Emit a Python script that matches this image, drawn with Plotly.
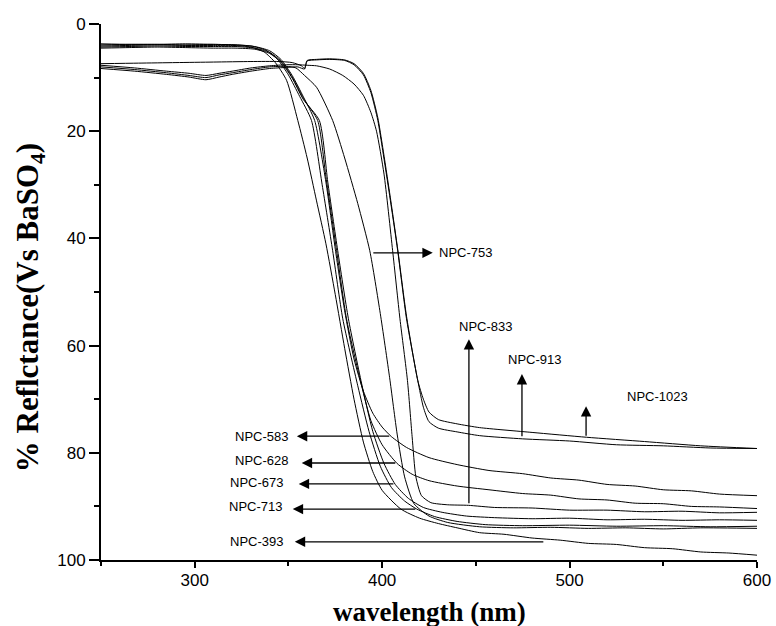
import plotly.graph_objects as go

# ---------------- data ----------------
wl_393 = [250, 265, 280, 295, 310, 320, 330, 337, 343, 349, 355, 360, 365, 370, 375, 380, 385, 390, 395, 400, 410, 420, 430, 440, 452, 465, 480, 495, 510, 525, 540, 555, 570, 585, 600]
r_393 = [4.1, 4.0, 3.9, 4.0, 4.0, 4.0, 4.3, 5.2, 7.2, 10.5, 18.0, 25.0, 33.0, 41.0, 50.5, 60.5, 70.0, 78.0, 83.5, 87.0, 90.5, 92.2, 93.2, 94.0, 94.9, 95.2, 95.9, 96.3, 96.9, 97.1, 97.7, 97.9, 98.5, 98.7, 99.1]

wl_583 = [250, 265, 280, 295, 310, 322, 332, 340, 346, 352, 358, 364, 370, 375, 380, 385, 390, 395, 400, 405, 413, 425, 440, 457, 475, 490, 505, 520, 535, 550, 565, 580, 600]
r_583 = [3.7, 3.8, 3.8, 3.7, 3.8, 3.9, 4.2, 5.0, 6.6, 9.6, 13.6, 18.0, 29.5, 42.0, 53.5, 62.5, 68.5, 72.6, 75.2, 77.0, 79.0, 80.9, 82.2, 83.3, 83.9, 84.7, 85.1, 85.9, 86.2, 86.9, 87.1, 87.7, 88.0]

wl_628 = [250, 265, 280, 295, 310, 322, 332, 340, 346, 352, 358, 365.6, 370, 375.7, 381, 388, 394, 400, 408, 416, 425, 440, 457, 475, 490, 505, 520, 535, 550, 565, 580, 600]
r_628 = [4.3, 4.2, 4.1, 4.2, 4.2, 4.2, 4.5, 5.3, 6.9, 9.9, 13.9, 18.0, 28.5, 42.3, 55.0, 66.0, 74.0, 78.5, 82.0, 84.0, 85.2, 86.2, 86.9, 87.6, 87.9, 88.6, 88.8, 89.4, 89.5, 90.0, 90.1, 90.4]

wl_673 = [250, 265, 280, 295, 310, 322, 332, 340, 346, 352, 358, 366.5, 371, 376.3, 382, 389, 395, 401, 407, 414, 422, 432, 445, 460, 480, 500, 520, 540, 560, 580, 600]
r_673 = [4.5, 4.4, 4.3, 4.4, 4.5, 4.5, 4.7, 5.5, 7.1, 10.1, 14.1, 18.0, 29.5, 42.3, 55.0, 67.0, 76.0, 82.0, 85.9, 88.5, 90.2, 91.1, 91.8, 92.1, 92.3, 92.2, 92.5, 92.4, 92.6, 92.5, 92.6]

wl_713 = [250, 265, 280, 295, 310, 322, 330, 338, 344, 350, 356, 362.3, 368, 373.6, 379, 387, 393, 399, 405, 412, 418.5, 428, 440, 455, 475, 500, 525, 550, 575, 600]
r_713 = [3.9, 3.8, 3.8, 3.9, 3.8, 3.9, 4.1, 4.9, 6.5, 9.5, 13.5, 18.0, 30.0, 42.3, 55.0, 67.5, 76.0, 82.5, 86.5, 89.0, 90.5, 91.9, 92.8, 93.4, 93.6, 93.5, 93.7, 93.6, 93.8, 93.7]

wl_753 = [250, 268, 285, 297, 306, 313, 320, 330, 340, 349, 354, 358.6, 365, 373.6, 380, 387, 393.4, 399, 404, 408, 412, 417, 425, 435, 452, 470, 490, 510, 530, 550, 570, 600]
r_753 = [8.0, 8.5, 9.1, 9.6, 10.0, 9.5, 9.1, 8.5, 8.0, 7.9, 8.2, 9.6, 11.8, 18.0, 25.0, 33.5, 42.3, 54.0, 66.0, 76.5, 84.5, 89.5, 91.8, 93.0, 93.8, 94.0, 93.9, 94.1, 94.0, 94.2, 94.0, 94.1]

wl_833 = [250, 268, 285, 297, 306, 313, 320, 330, 340, 349, 355, 360, 365, 372, 379, 385, 390, 394, 397, 401, 405.6, 409.5, 413.5, 416, 418, 421, 426, 435, 446, 460, 480, 500, 520, 540, 560, 580, 600]
r_833 = [7.7, 8.2, 8.8, 9.2, 9.6, 9.2, 8.8, 8.2, 7.8, 7.6, 7.6, 7.7, 7.8, 8.4, 9.6, 11.2, 13.3, 16.5, 20.0, 28.0, 42.3, 55.0, 66.5, 77.0, 84.5, 88.0, 89.3, 89.7, 89.8, 90.2, 90.3, 90.7, 90.7, 91.0, 90.9, 91.2, 91.1]

wl_913 = [250, 268, 285, 297, 306, 313, 320, 330, 340, 349, 355, 358.6, 360, 365, 372, 380, 385, 390, 394, 397.7, 400.3, 404, 408.3, 413, 419, 422, 425, 430, 440, 452, 475, 500, 525, 550, 575, 600]
r_913 = [8.3, 8.8, 9.4, 9.9, 10.4, 9.9, 9.4, 8.8, 8.3, 8.1, 8.0, 8.4, 6.9, 6.7, 6.6, 6.8, 7.6, 9.5, 12.8, 18.0, 23.6, 32.0, 42.3, 55.0, 66.5, 71.5, 74.2, 75.4, 76.1, 76.8, 77.4, 77.8, 78.5, 78.7, 79.1, 79.2]

wl_1023 = [250, 270, 290, 310, 330, 345, 352, 357, 358.6, 360, 365, 372, 380, 385, 390, 394, 397.7, 400.3, 404, 408.3, 413, 419, 422, 425, 430, 440, 452, 480, 509, 540, 570, 600]
r_1023 = [7.4, 7.3, 7.2, 7.1, 7.0, 7.0, 7.2, 7.8, 8.3, 6.8, 6.6, 6.5, 6.7, 7.4, 9.2, 12.4, 17.5, 23.0, 31.5, 42.0, 54.5, 66.5, 70.0, 72.4, 73.8, 74.6, 75.3, 76.2, 77.1, 77.9, 78.7, 79.2]

series_names = ["NPC-393", "NPC-583", "NPC-628", "NPC-673", "NPC-713",
                "NPC-753", "NPC-833", "NPC-913", "NPC-1023"]
series_x = [wl_393, wl_583, wl_628, wl_673, wl_713, wl_753, wl_833, wl_913, wl_1023]
series_y = [r_393, r_583, r_628, r_673, r_713, r_753, r_833, r_913, r_1023]

x_tick_vals = [300, 400, 500, 600]
x_minor_vals = [250, 350, 450, 550]
y_tick_vals = [0, 20, 40, 60, 80, 100]
y_minor_vals = [10, 30, 50, 70, 90]

# ---------------- figure ----------------
fig = go.Figure()
for name, xs, ys in zip(series_names, series_x, series_y):
    fig.add_trace(go.Scatter(x=xs, y=ys, mode="lines", name=name,
                             line=dict(color="black", width=1, shape="spline", smoothing=0.6),
                             showlegend=False))

# label annotations: (text, head_x, head_y, tail_x, tail_y, text_x, text_y, xanchor)
labels = [
    ("NPC-753", 427.0, 42.7, 394.5, 42.7, 429.5, 42.7, "left"),
    ("NPC-833", 446.3, 58.8, 446.3, 89.7, 455.3, 56.4, "center"),
    ("NPC-913", 474.6, 65.3, 474.6, 77.2, 481.3, 62.6, "center"),
    ("NPC-1023", 508.8, 71.3, 508.8, 77.1, 546.8, 69.5, "center"),
    ("NPC-583", 354.5, 76.9, 404.6, 76.9, 351.0, 76.9, "right"),
    ("NPC-628", 357.1, 81.9, 407.8, 81.9, 351.0, 81.5, "right"),
    ("NPC-673", 355.5, 85.8, 406.8, 85.8, 348.3, 85.6, "right"),
    ("NPC-713", 352.3, 90.5, 418.5, 90.5, 347.8, 90.1, "right"),
    ("NPC-393", 353.4, 96.6, 486.8, 96.6, 348.3, 96.5, "right"),
]
for txt, hx, hy, tx, ty, lx, ly, anc in labels:
    fig.add_annotation(x=hx, y=hy, ax=tx, ay=ty, xref="x", yref="y", axref="x", ayref="y",
                       text="", showarrow=True, arrowhead=2, arrowsize=1.6,
                       arrowwidth=1.3, arrowcolor="black", standoff=0, startstandoff=0)
    fig.add_annotation(x=lx, y=ly, xref="x", yref="y", text=txt, showarrow=False,
                       xanchor=anc, yanchor="middle",
                       font=dict(family="Liberation Sans, Arial", size=13, color="black"))

# axis titles
fig.add_annotation(x=0.5, y=-0.097, xref="paper", yref="paper",
                   text="<b>wavelength (nm)</b>", showarrow=False,
                   xanchor="center", yanchor="middle",
                   font=dict(family="Liberation Serif, Times New Roman", size=27, color="black"))
fig.add_annotation(x=-0.108, y=0.47, xref="paper", yref="paper",
                   text="<b>% Reflctance(Vs BaSO<sub>4</sub>)</b>", showarrow=False,
                   textangle=-90, xanchor="center", yanchor="middle",
                   font=dict(family="Liberation Serif, Times New Roman", size=31, color="black"))

fig.update_layout(
    width=776, height=626,
    margin=dict(l=101, r=19, t=24, b=66, autoexpand=False),
    paper_bgcolor="white", plot_bgcolor="white",
    showlegend=False,
)
fig.update_xaxes(range=[250, 600], tickvals=x_tick_vals, ticks="outside", ticklen=6, tickwidth=1.5,
                 tickcolor="black", showline=True, linewidth=2, linecolor="black", showgrid=False,
                 zeroline=False, automargin=False, ticklabelstandoff=-2,
                 tickfont=dict(family="Liberation Sans, Arial", size=17, color="black"),
                 minor=dict(tickvals=x_minor_vals, ticks="outside", ticklen=4, tickwidth=1.5,
                            tickcolor="black", showgrid=False))
fig.update_yaxes(range=[100, 0], tickvals=y_tick_vals, ticks="outside", ticklen=10, tickwidth=1.5,
                 tickcolor="black", showline=True, linewidth=2, linecolor="black", showgrid=False,
                 zeroline=False, automargin=False,
                 tickfont=dict(family="Liberation Sans, Arial", size=17, color="black"),
                 minor=dict(tickvals=y_minor_vals, ticks="outside", ticklen=5, tickwidth=1.5,
                            tickcolor="black", showgrid=False))

fig.write_html("out.html")
